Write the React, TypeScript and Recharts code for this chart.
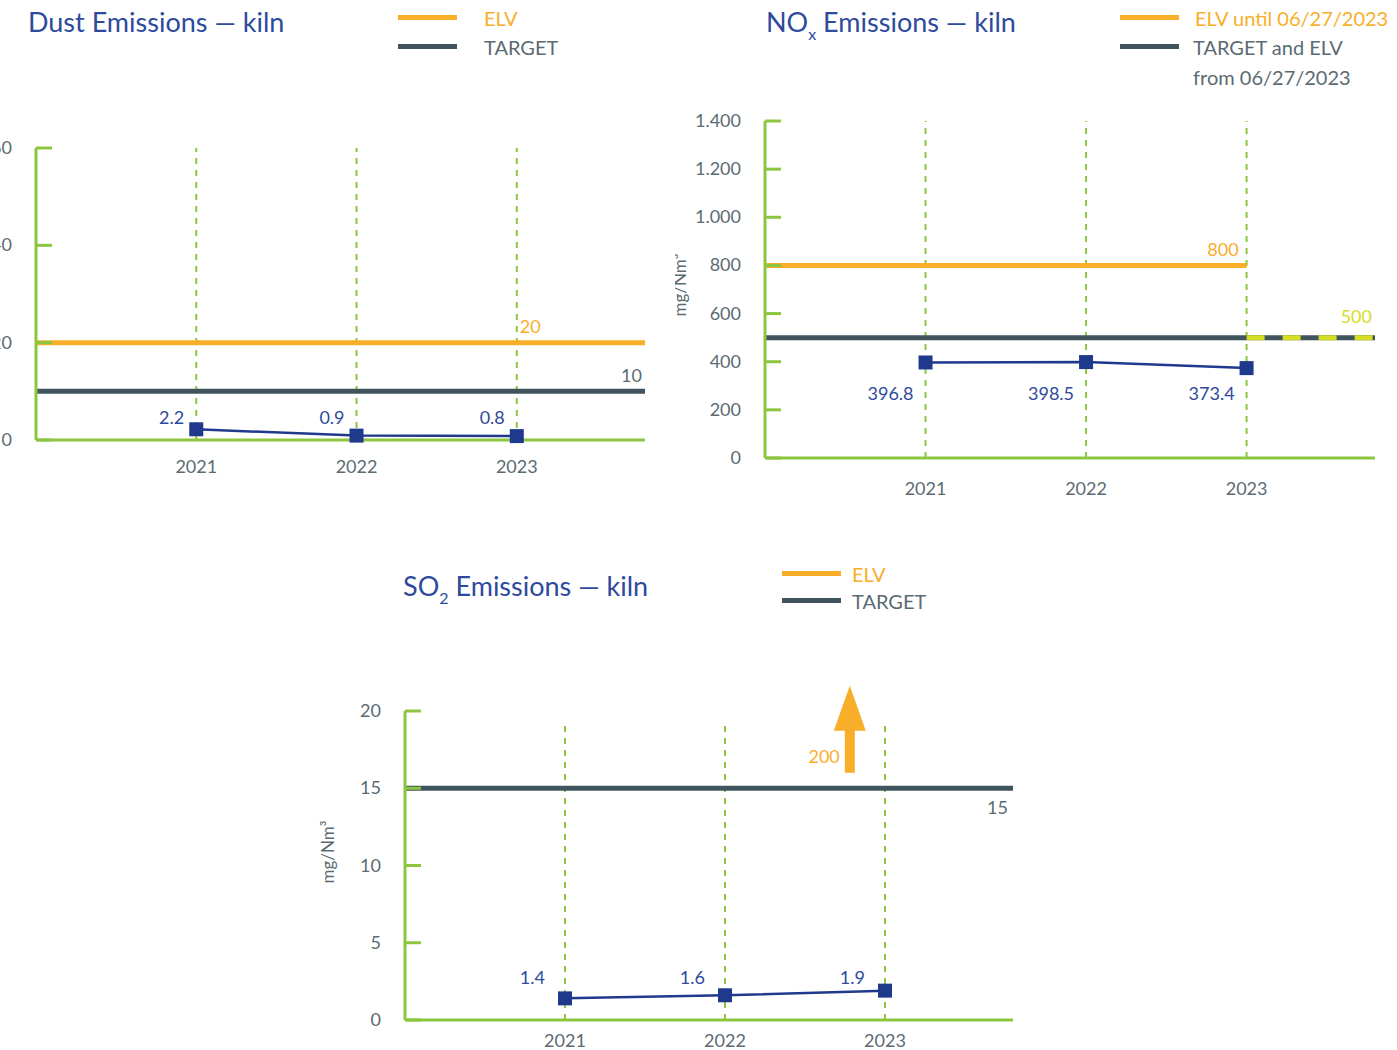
import React from "react";
import { LineChart, Line, XAxis, YAxis, ReferenceLine, ReferenceDot } from "recharts";

// ---- data ----
const years = [2021, 2022, 2023];

const dustValues = [2.2, 0.9, 0.8];
const dustTicks = [0, 20, 40, 60];
const dustElv = 20;
const dustTarget = 10;

const noxValues = [396.8, 398.5, 373.4];
const noxTicks = [0, 200, 400, 600, 800, 1000, 1200, 1400];
const noxElv = 800; // until 06/27/2023
const noxTarget = 500; // target and ELV from 06/27/2023
const noxElvChangeYear = 2023;

const so2Values = [1.4, 1.6, 1.9];
const so2Ticks = [0, 5, 10, 15, 20];
const so2Elv = 200; // off scale, shown as arrow
const so2Target = 15;

const xDomain: [number, number] = [2020, 2023.8];

// ---- styles ----
const FONT = "Lato, 'Open Sans', sans-serif";
const GREEN = "#8cc63f";
const ORANGE = "#f9ae2a";
const SLATE = "#3f545c";
const NAVY = "#1f3a8c";
const BLUE_TEXT = "#2e4a9c";
const GRAY = "#5b6b72";
const YELLOW = "#d6de23";

const toRows = (values: number[]) => years.map((year, i) => ({ year, value: values[i] }));

const thousands = (v: number) => (v >= 1000 ? `${Math.floor(v / 1000)}.${String(v % 1000).padStart(3, "0")}` : String(v));

function makeYTick(margin: number, fmt: (v: number) => string) {
  return (props: any) => {
    const { x, y, payload } = props;
    const ax = x + margin;
    return (
      <g>
        <line x1={ax} x2={ax + 16} y1={y} y2={y} stroke={GREEN} strokeWidth={3} />
        <text x={x} y={y} dy={6} textAnchor="end" fill={GRAY} fontSize={18} fontFamily={FONT}>
          {fmt(payload.value)}
        </text>
      </g>
    );
  };
}

function makeDot(labelY: number, dx: number) {
  return (props: any) => {
    const { cx, cy, value, index } = props;
    return (
      <g key={`dot-${index}`}>
        <rect x={cx - 7} y={cy - 7} width={14} height={14} fill={NAVY} />
        <text x={cx + dx} y={labelY} textAnchor="end" fill={BLUE_TEXT} fontSize={18} fontFamily={FONT}>
          {String(value)}
        </text>
      </g>
    );
  };
}

function tag(text: string, color: string, dx: number, dy: number, anchor: "start" | "end") {
  return (props: any) => (
    <text x={props.cx + dx} y={props.cy + dy} textAnchor={anchor} fill={color} fontSize={18} fontFamily={FONT}>
      {text}
    </text>
  );
}

interface ChartProps {
  values: number[];
  ticks: number[];
  left: number;
  top: number;
  width: number;
  height: number;
  marginTop: number;
  marginRight: number;
  xTickMargin: number;
  labelY: number;
  labelDx: number;
  yFormat?: (v: number) => string;
  unitPos?: [number, number];
  gridTop?: number[];
  children?: React.ReactNode;
}

function EmissionChart(p: ChartProps) {
  const max = p.ticks[p.ticks.length - 1];
  return (
    <div style={{ position: "absolute", left: p.left, top: p.top }}>
      <LineChart
        width={p.width}
        height={p.height}
        data={toRows(p.values)}
        margin={{ top: p.marginTop, right: p.marginRight, left: 0, bottom: 10 }}
      >
        <XAxis
          dataKey="year"
          type="number"
          domain={xDomain}
          ticks={years}
          interval={0}
          height={40}
          tickLine={false}
          tickSize={0}
          tickMargin={p.xTickMargin}
          axisLine={{ stroke: GREEN, strokeWidth: 3 }}
          tick={{ fill: GRAY, fontSize: 18, fontFamily: FONT }}
        />
        <YAxis
          type="number"
          domain={[0, max]}
          ticks={p.ticks}
          interval={0}
          width={90}
          tickLine={false}
          tickSize={0}
          tickMargin={24}
          axisLine={{ stroke: GREEN, strokeWidth: 3 }}
          tick={makeYTick(24, p.yFormat ?? String)}
          label={
            p.unitPos
              ? (() => (
                  <text
                    transform={`translate(${p.unitPos![0]},${p.unitPos![1]}) rotate(-90)`}
                    textAnchor="middle"
                    fill={GRAY}
                    fontSize={17}
                    fontFamily={FONT}
                  >
                    mg/Nm³
                  </text>
                )) as any
              : undefined
          }
        />
        {years.map((yr, i) =>
          p.gridTop ? (
            <ReferenceLine
              key={yr}
              segment={[
                { x: yr, y: 0 },
                { x: yr, y: p.gridTop[i] },
              ]}
              stroke={GREEN}
              strokeWidth={2}
              strokeDasharray="6 6"
            />
          ) : (
            <ReferenceLine key={yr} x={yr} stroke={GREEN} strokeWidth={2} strokeDasharray="6 6" />
          )
        )}
        {p.children}
        <Line
          type="linear"
          dataKey="value"
          stroke={NAVY}
          strokeWidth={2.5}
          dot={makeDot(p.labelY, p.labelDx)}
          activeDot={false}
          isAnimationActive={false}
        />
      </LineChart>
    </div>
  );
}

const legendRow = (color: string, text: string, top: number, left: number, textDx: number, textColor: string) => (
  <div style={{ position: "absolute", left, top }}>
    <div style={{ position: "absolute", left: 0, top: 0, width: 59, height: 5, background: color }} />
    <div style={{ position: "absolute", left: textDx, top: -9, color: textColor, fontSize: 20, whiteSpace: "nowrap" }}>{text}</div>
  </div>
);

const titleStyle: React.CSSProperties = {
  position: "absolute",
  color: BLUE_TEXT,
  fontSize: 27,
  whiteSpace: "nowrap",
};
const subStyle: React.CSSProperties = { fontSize: 16, position: "relative", top: 8 };

export default function App() {
  return (
    <div
      style={{
        position: "absolute",
        left: 0,
        top: 0,
        width: 1397,
        height: 1050,
        overflow: "hidden",
        background: "#fff",
        fontFamily: FONT,
      }}
    >
      {/* Dust */}
      <div style={{ ...titleStyle, left: 28, top: 5 }}>Dust Emissions — kiln</div>
      {legendRow(ORANGE, "ELV", 15, 398, 86, ORANGE)}
      {legendRow(SLATE, "TARGET", 44, 398, 86, GRAY)}
      <EmissionChart
        values={dustValues}
        ticks={dustTicks}
        left={-54}
        top={128}
        width={709}
        height={362}
        marginTop={20}
        marginRight={10}
        xTickMargin={20}
        labelY={296}
        labelDx={-12}
      >
        <ReferenceLine y={dustElv} stroke={ORANGE} strokeWidth={5} />
        <ReferenceLine y={dustTarget} stroke={SLATE} strokeWidth={5} />
        <ReferenceDot x={2023} y={dustElv} r={0} shape={tag(String(dustElv), ORANGE, 3, -10, "start")} />
        <ReferenceDot x={xDomain[1]} y={dustTarget} r={0} shape={tag(String(dustTarget), GRAY, -3, -9, "end")} />
      </EmissionChart>

      {/* NOx */}
      <div style={{ ...titleStyle, left: 766, top: 5 }}>
        NO<span style={subStyle}>x</span> Emissions — kiln
      </div>
      {legendRow(ORANGE, "ELV until 06/27/2023", 15, 1120, 75, ORANGE)}
      {legendRow(SLATE, "TARGET and ELV", 44, 1120, 73, GRAY)}
      <div style={{ position: "absolute", left: 1193, top: 65, color: GRAY, fontSize: 20, whiteSpace: "nowrap" }}>
        from 06/27/2023
      </div>
      <EmissionChart
        values={noxValues}
        ticks={noxTicks}
        left={675}
        top={101}
        width={720}
        height={407}
        marginTop={20}
        marginRight={20}
        xTickMargin={24}
        labelY={299}
        labelDx={-12}
        yFormat={thousands}
        unitPos={[11, 184]}
      >
        <ReferenceLine
          segment={[
            { x: xDomain[0], y: noxElv },
            { x: noxElvChangeYear, y: noxElv },
          ]}
          stroke={ORANGE}
          strokeWidth={5}
        />
        <ReferenceLine y={noxTarget} stroke={SLATE} strokeWidth={5} />
        <ReferenceLine
          segment={[
            { x: noxElvChangeYear, y: noxTarget },
            { x: xDomain[1], y: noxTarget },
          ]}
          stroke={YELLOW}
          strokeWidth={5}
          strokeDasharray="18 18"
        />
        <ReferenceDot x={noxElvChangeYear} y={noxElv} r={0} shape={tag(String(noxElv), ORANGE, -8, -9, "end")} />
        <ReferenceDot x={xDomain[1]} y={noxTarget} r={0} shape={tag(String(noxTarget), YELLOW, -3, -15, "end")} />
      </EmissionChart>

      {/* SO2 */}
      <div style={{ ...titleStyle, left: 403, top: 569 }}>
        SO<span style={subStyle}>2</span> Emissions — kiln
      </div>
      {legendRow(ORANGE, "ELV", 571, 782, 70, ORANGE)}
      {legendRow(SLATE, "TARGET", 598, 782, 70, GRAY)}
      <EmissionChart
        values={so2Values}
        ticks={so2Ticks}
        left={315}
        top={671}
        width={718}
        height={399}
        marginTop={40}
        marginRight={20}
        xTickMargin={14}
        labelY={313}
        labelDx={-20}
        unitPos={[19, 181]}
        gridTop={[19.1, 19.1, 19.4]}
      >
        <ReferenceLine y={so2Target} stroke={SLATE} strokeWidth={5} />
        <ReferenceDot x={xDomain[1]} y={so2Target} r={0} shape={tag(String(so2Target), GRAY, -5, 26, "end")} />
        <ReferenceDot
          x={2022.78}
          y={16}
          r={0}
          shape={(props: any) => {
            const { cx, cy } = props;
            return (
              <g>
                <polygon
                  points={`${cx - 5},${cy} ${cx + 5},${cy} ${cx + 5},${cy - 42} ${cx + 16},${cy - 42} ${cx},${cy - 87} ${cx - 16},${cy - 42} ${cx - 5},${cy - 42}`}
                  fill={ORANGE}
                />
                <text x={cx - 10} y={cy - 10} textAnchor="end" fill={ORANGE} fontSize={18} fontFamily={FONT}>
                  {String(so2Elv)}
                </text>
              </g>
            );
          }}
        />
      </EmissionChart>
    </div>
  );
}
